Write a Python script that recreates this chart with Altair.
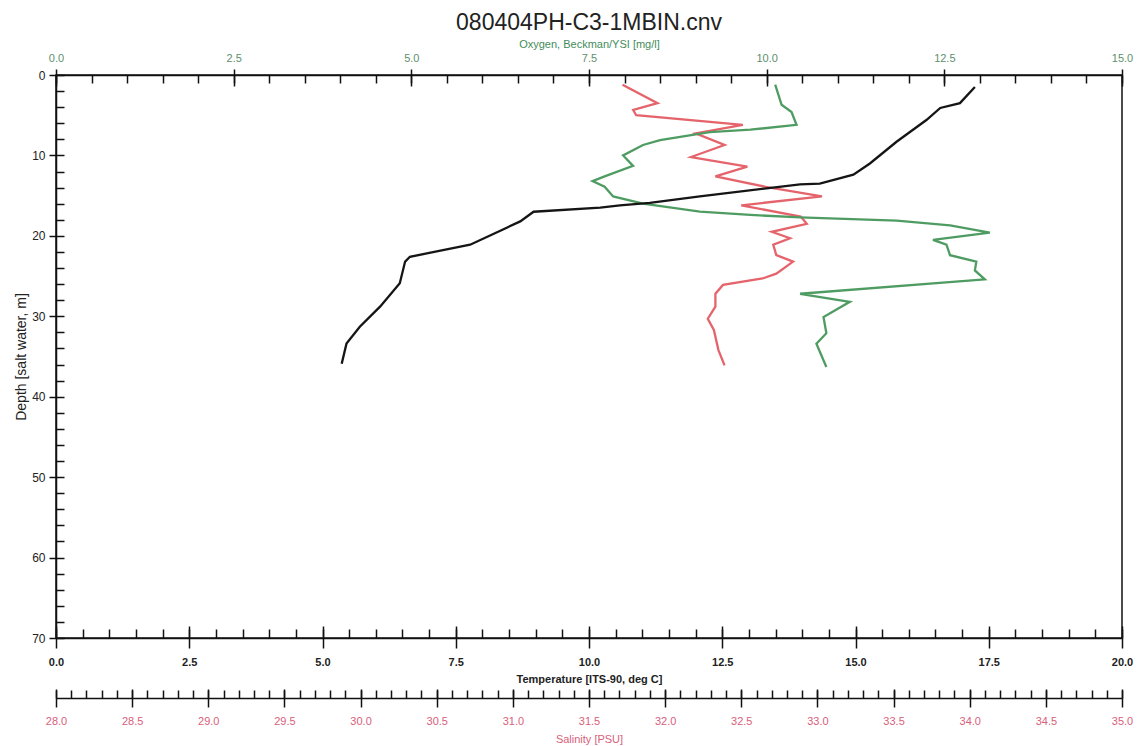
import altair as alt
import pandas as pd

# ---- CTD cast 080404PH-C3 (1 m bins) ----
temp_depth = [1.5, 3.5, 4.1, 5.6, 8.3, 11.0, 12.4, 13.5, 13.6, 14.1, 15.1, 15.9,
              16.2, 16.5, 17.0, 18.2, 21.1, 22.6, 23.2, 25.9, 28.8, 31.3, 33.4, 35.9]
temp_vals = [17.24, 16.96, 16.59, 16.33, 15.77, 15.27, 14.96, 14.33, 13.96, 13.33, 12.08, 11.14,
             10.58, 10.21, 8.96, 8.71, 7.77, 6.64, 6.55, 6.45, 6.08, 5.70, 5.45, 5.36]

sal_depth = [1.2, 3.5, 4.35, 5.0, 6.2, 7.25, 8.7, 10.2, 11.4, 12.6, 13.9, 15.1, 16.2, 17.6,
             18.5, 19.5, 20.3, 21.1, 22.4, 23.2, 24.7, 25.3, 26.1, 27.2, 28.8, 30.3, 31.7, 34.2, 36.1]
sal_vals = [31.72, 31.95, 31.79, 31.81, 32.51, 32.20, 32.39, 32.17, 32.54, 32.33, 32.66, 33.03,
            32.50, 32.89, 32.93, 32.70, 32.82, 32.71, 32.73, 32.84, 32.73, 32.64, 32.38, 32.33,
            32.33, 32.28, 32.32, 32.35, 32.39]

oxy_depth = [1.2, 3.7, 4.6, 6.2, 6.8, 7.1, 8.1, 8.7, 10.0, 11.3, 12.6, 13.2, 13.9, 15.1, 16.0,
             17.0, 17.4, 17.7, 18.1, 18.7, 19.6, 20.5, 21.1, 22.4, 23.2, 24.3, 25.4, 27.2, 28.2,
             30.1, 32.1, 33.4, 36.3]
oxy_vals = [10.12, 10.21, 10.35, 10.42, 9.77, 9.20, 8.50, 8.26, 7.98, 8.12, 7.72, 7.55, 7.72,
            7.84, 8.26, 9.06, 9.77, 10.47, 11.83, 12.58, 13.14, 12.34, 12.53, 12.58, 12.95, 12.93,
            13.07, 10.47, 11.17, 10.80, 10.84, 10.70, 10.84]

# axis tick positions
temp_labels = [0.0, 2.5, 5.0, 7.5, 10.0, 12.5, 15.0, 17.5, 20.0]
oxy_labels = [0.0, 2.5, 5.0, 7.5, 10.0, 12.5, 15.0]
sal_labels = [28.0, 28.5, 29.0, 29.5, 30.0, 30.5, 31.0, 31.5, 32.0, 32.5, 33.0, 33.5, 34.0, 34.5, 35.0]
depth_labels = [0, 10, 20, 30, 40, 50, 60, 70]
temp_minor = [i * 0.5 for i in range(41)]
oxy_minor = [i * 0.5 for i in range(31)]
sal_minor = [round(28 + i * 0.1, 1) for i in range(71)]
depth_minor = [i * 2 for i in range(36)]

TEMP_COLOR = "#151515"
SAL_COLOR = "#e5646c"
OXY_COLOR = "#4f9c62"
FONT = "Liberation Sans"

temp_df = pd.DataFrame({"depth": temp_depth, "temperature": temp_vals, "i": range(len(temp_vals))})
sal_df = pd.DataFrame({"depth": sal_depth, "salinity": sal_vals, "i": range(len(sal_vals))})
oxy_df = pd.DataFrame({"depth": oxy_depth, "oxygen": oxy_vals, "i": range(len(oxy_vals))})

t_scale = alt.Scale(domain=[0, 20], nice=False, zero=False)
o_scale = alt.Scale(domain=[0, 15], nice=False, zero=False)
s_scale = alt.Scale(domain=[28, 35], nice=False, zero=False)
d_scale = alt.Scale(domain=[0, 70], nice=False, reverse=True)


def tick_axis(orient, values, size, offset):
    return alt.Axis(orient=orient, values=values, tickSize=size, offset=offset,
                    domain=False, labels=False, title=None, ticks=True)


def hidden(df, field, scale, axis):
    # invisible layer that only carries an extra set of axis ticks
    return alt.Chart(df).mark_point(opacity=0).encode(
        x=alt.X(f"{field}:Q", scale=scale, axis=axis),
        y=alt.Y("depth:Q", scale=d_scale, axis=None),
    )


salinity = alt.Chart(sal_df).mark_line(color=SAL_COLOR, strokeWidth=2.3).encode(
    x=alt.X("salinity:Q", scale=s_scale,
            axis=alt.Axis(orient="bottom", offset=60, values=sal_labels, format=".1f",
                          ticks=False, domain=True, labelPadding=17, labelColor="#d9607a",
                          labelFontSize=11, labelFlush=False, labelOverlap=False,
                          title="Salinity [PSU]", titleColor="#d9607a", titleFontSize=11,
                          titleFontWeight="normal", titlePadding=7)),
    y=alt.Y("depth:Q", scale=d_scale, axis=None),
    order="i:Q",
)

oxygen = alt.Chart(oxy_df).mark_line(color=OXY_COLOR, strokeWidth=2.3).encode(
    x=alt.X("oxygen:Q", scale=o_scale,
            axis=alt.Axis(orient="top", values=oxy_labels, format=".1f", ticks=False,
                          domain=True, labelPadding=12, labelColor="#5e8f6c", labelFontSize=11,
                          labelFlush=False, labelOverlap=False,
                          title="Oxygen, Beckman/YSI [mg/l]", titleColor="#3f8c5a",
                          titleFontSize=11, titleFontWeight="normal", titlePadding=3)),
    y=alt.Y("depth:Q", scale=d_scale, axis=None),
    order="i:Q",
)

temperature = alt.Chart(temp_df).mark_line(color=TEMP_COLOR, strokeWidth=2.3).encode(
    x=alt.X("temperature:Q", scale=t_scale,
            axis=alt.Axis(orient="bottom", values=temp_labels, format=".1f", ticks=False,
                          domain=True, labelPadding=18, labelFontSize=11, labelFontWeight="bold",
                          labelColor="#222", labelFlush=False, labelOverlap=False,
                          title="Temperature [ITS-90, deg C]", titleFontSize=11,
                          titleFontWeight="bold", titleColor="#222", titlePadding=6)),
    y=alt.Y("depth:Q", scale=d_scale,
            axis=alt.Axis(orient="left", values=depth_labels, tickSize=7, domain=True,
                          labelPadding=4, labelFontSize=12, labelColor="#222",
                          labelFlush=False, labelOverlap=False,
                          title="Depth [salt water, m]", titleFontSize=14,
                          titleFontWeight="normal", titleColor="#222", titlePadding=3)),
    order="i:Q",
)

depth_ticks = alt.Chart(temp_df).mark_point(opacity=0).encode(
    x=alt.X("temperature:Q", scale=t_scale, axis=None),
    y=alt.Y("depth:Q", scale=d_scale, axis=tick_axis("left", depth_minor, 8, -8)),
)

layers = [
    salinity, oxygen, temperature,
    # temperature: short inward minor ticks, major ticks crossing the axis line
    hidden(temp_df, "temperature", t_scale, tick_axis("bottom", temp_minor, 9, -9)),
    hidden(temp_df, "temperature", t_scale, tick_axis("bottom", temp_labels, 22, -12)),
    # oxygen (top)
    hidden(oxy_df, "oxygen", o_scale, tick_axis("top", oxy_minor, 8, -8)),
    hidden(oxy_df, "oxygen", o_scale, tick_axis("top", oxy_labels, 17, -11)),
    # salinity (second bottom axis)
    hidden(sal_df, "salinity", s_scale, tick_axis("bottom", sal_minor, 8, 52)),
    hidden(sal_df, "salinity", s_scale, tick_axis("bottom", sal_labels, 18, 51)),
    depth_ticks,
]

chart = alt.layer(*layers).resolve_scale(
    x="independent", y="independent"
).properties(
    width=1066,
    height=563,
    autosize=alt.AutoSizeParams(type="none"),
    padding={"left": 56, "top": 75, "right": 16, "bottom": 108},
    background="white",
    title=alt.TitleParams("080404PH-C3-1MBIN.cnv", fontSize=23, font=FONT,
                          fontWeight="normal", color="#222", anchor="middle", offset=3),
).configure_axis(
    grid=False,
    domainColor="#111",
    domainWidth=1.5,
    tickColor="#111",
    tickWidth=1.5,
    labelFont=FONT,
    titleFont=FONT,
).configure_view(
    stroke="#111",
    strokeWidth=1.5,
)

chart.save("out.html", embed_options={"renderer": "svg", "actions": False})
